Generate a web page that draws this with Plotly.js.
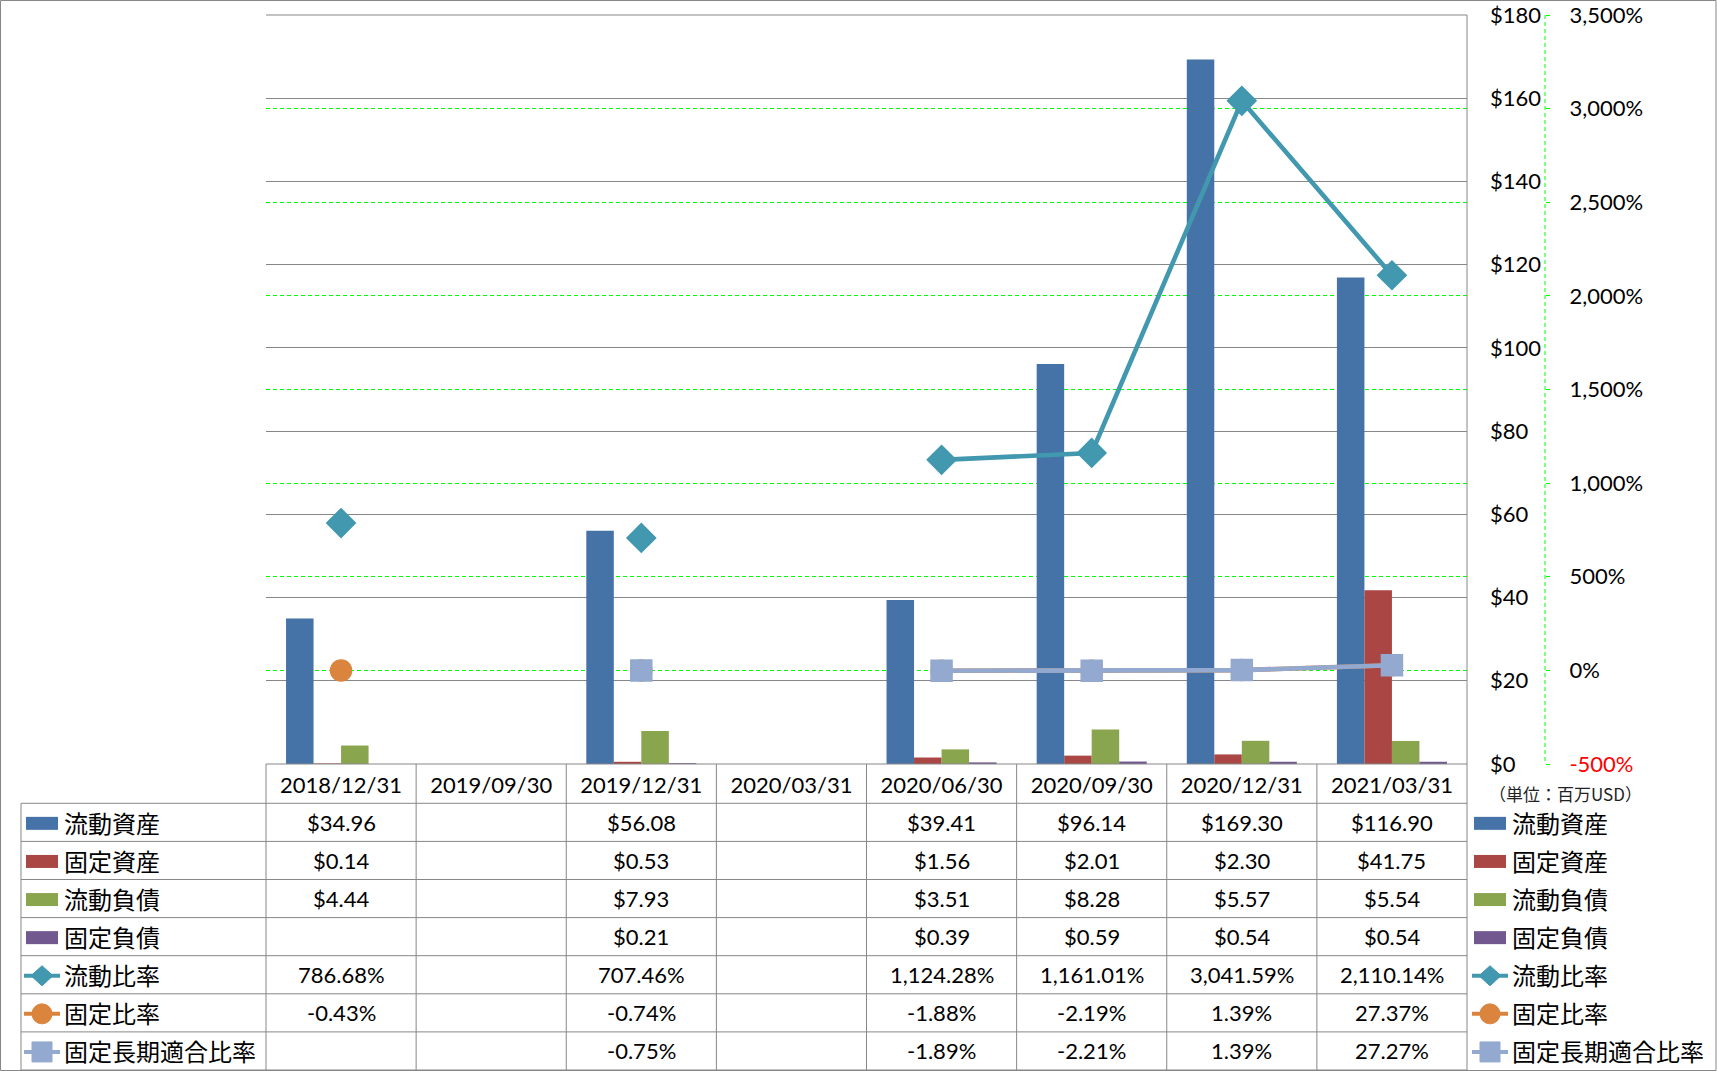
<!DOCTYPE html>
<html>
<head>
<meta charset="utf-8">
<script src="https://cdn.plot.ly/plotly-3.0.1.min.js"></script>
<style>
html,body{margin:0;padding:0;background:#fff;}
#chart{width:1717px;height:1071px;}
</style>
</head>
<body>
<div id="chart"></div>
<script>
// ---------- DATA ----------
const categories = ["2018/12/31","2019/09/30","2019/12/31","2020/03/31","2020/06/30","2020/09/30","2020/12/31","2021/03/31"];
const currentAssets      = [34.96, null, 56.08, null, 39.41, 96.14, 169.30, 116.90];
const fixedAssets        = [0.14,  null, 0.53,  null, 1.56,  2.01,  2.30,   41.75];
const currentLiabilities = [4.44,  null, 7.93,  null, 3.51,  8.28,  5.57,   5.54];
const fixedLiabilities   = [null,  null, 0.21,  null, 0.39,  0.59,  0.54,   0.54];
const currentRatio       = [786.68, null, 707.46, null, 1124.28, 1161.01, 3041.59, 2110.14];
const fixedRatio         = [-0.43,  null, -0.74,  null, -1.88,   -2.19,   1.39,    27.37];
const fixedLongTermRatio = [null,   null, -0.75,  null, -1.89,   -2.21,   1.39,    27.27];
const seriesNames = ["流動資産","固定資産","流動負債","固定負債","流動比率","固定比率","固定長期適合比率"];
const moneyTicks  = [0,20,40,60,80,100,120,140,160,180];
const moneyLabels = ["$0","$20","$40","$60","$80","$100","$120","$140","$160","$180"];
const pctTicks    = [-500,0,500,1000,1500,2000,2500,3000,3500];
const pctLabels   = ['<span style="color:#ff0000">-500%</span>',"0%","500%","1,000%","1,500%","2,000%","2,500%","3,000%","3,500%"];
const unitLabel = "（単位：百万USD）";

// ---------- STYLE / LAYOUT ----------
const colors = ["#4572A7","#AA4643","#89A54E","#71588F","#4198AF","#DB843D","#93A9CF"];
const W = 1717, H = 1071;
const ML = 266, MR = 172, MT = 15, MB = 307;
const PW = W - ML - MR, PH = H - MT - MB;
const px = x => (x - ML) / PW;
const py = y => (MT + PH - y) / PH;
const FONT = "Lato, 'Noto Sans CJK JP', sans-serif";
const GRAY = "#878787";
const plotRight = 1467, tableLeft = 21, headerBottom = 803.3, rowH = 38.1, tableBottom = 1070;
const colW = (plotRight - ML) / categories.length;

const barSeries = [currentAssets, fixedAssets, currentLiabilities, fixedLiabilities];
const lineSeries = [currentRatio, fixedRatio, fixedLongTermRatio];
const lineSymbols = ["diamond","circle","square"];
const lineSizes = [22, 21, 21];

const traces = [];
barSeries.forEach((vals, i) => {
  traces.push({type:"bar", name:seriesNames[i], x:categories, y:vals,
    marker:{color:colors[i]}, hoverinfo:"x+y"});
});
lineSeries.forEach((vals, j) => {
  const i = j + 4;
  traces.push({type:"scatter", mode:"lines+markers", name:seriesNames[i], x:categories, y:vals,
    yaxis:"y2", connectgaps:false,
    line:{color:colors[i], width:4.6},
    marker:{symbol:lineSymbols[j], size:lineSizes[j], color:colors[i], line:{color:colors[i], width:1.5}}});
});

// table + legend drawn as shapes/annotations
const shapes = [];
const annotations = [];
const hline = (x0,x1,y,color,w,dash) => shapes.push({type:"line", xref:"paper", yref:"paper",
  x0:px(x0), x1:px(x1), y0:py(y), y1:py(y), line:{color:color||GRAY, width:w||1, dash:dash||"solid"}});
const vline = (x,y0,y1,color,w,dash) => shapes.push({type:"line", xref:"paper", yref:"paper",
  x0:px(x), x1:px(x), y0:py(y0), y1:py(y1), line:{color:color||GRAY, width:w||1, dash:dash||"solid"}});

// outer frame
shapes.push({type:"rect", xref:"paper", yref:"paper", x0:px(0.5), x1:px(1716), y0:py(0.5), y1:py(1070.5),
  line:{color:GRAY, width:1}, fillcolor:"rgba(0,0,0,0)"});
// top gridline & plot right border
hline(ML, plotRight, MT);
vline(plotRight, MT, tableBottom);
// secondary axis dashed line
vline(1545, MT, 764, "#00ff00", 1, "4px,3px");
// table
hline(ML, plotRight, 764);
for (let k = 0; k <= seriesNames.length; k++) hline(tableLeft, plotRight, headerBottom + k*rowH);
for (let k = 0; k < categories.length; k++) vline(ML + k*colW, 764, tableBottom);
vline(tableLeft, headerBottom, tableBottom);

const fmtNum = v => v.toLocaleString("en-US", {minimumFractionDigits:2, maximumFractionDigits:2});
const allSeries = barSeries.concat(lineSeries);
allSeries.forEach((vals, r) => {
  const yc = headerBottom + rowH*(r + 0.5);
  vals.forEach((v, c) => {
    if (v === null) return;
    const txt = r < 4 ? "$" + fmtNum(v) : fmtNum(v) + "%";
    annotations.push({x:categories[c], xref:"x", y:py(yc), yref:"paper", text:txt, showarrow:false,
      xanchor:"center", yanchor:"middle", font:{size:22, color:"#000", family:FONT}});
  });
});

// legends (left row headers and right legend)
function legendItem(x0, r) {
  const yc = headerBottom + rowH*(r + 0.5) + 1;
  const cx = x0 + 16;
  const col = colors[r];
  if (r < 4) {
    shapes.push({type:"rect", xref:"paper", yref:"paper", x0:px(x0), x1:px(x0+32), y0:py(yc-6.5), y1:py(yc+6.5),
      line:{width:0}, fillcolor:col});
  } else {
    shapes.push({type:"line", xref:"paper", yref:"paper", x0:px(x0-2), x1:px(x0+34), y0:py(yc), y1:py(yc),
      line:{color:col, width:4}});
    const sym = lineSymbols[r-4];
    if (sym === "diamond") {
      const p = [[cx-11,yc],[cx,yc-10],[cx+11,yc],[cx,yc+10]].map(q => px(q[0]) + "," + py(q[1]));
      shapes.push({type:"path", xref:"paper", yref:"paper", path:"M" + p.join("L") + "Z", fillcolor:col, line:{color:col, width:1}});
    } else if (sym === "circle") {
      shapes.push({type:"circle", xref:"paper", yref:"paper", x0:px(cx-10), x1:px(cx+10), y0:py(yc-10), y1:py(yc+10), fillcolor:col, line:{color:col, width:1}});
    } else {
      shapes.push({type:"rect", xref:"paper", yref:"paper", x0:px(cx-10), x1:px(cx+10), y0:py(yc-10), y1:py(yc+10), fillcolor:col, line:{color:col, width:1}});
    }
  }
  annotations.push({x:px(x0+36), xref:"paper", y:py(yc-1), yref:"paper", text:seriesNames[r], showarrow:false,
    xanchor:"left", yanchor:"middle", font:{size:24, color:"#000", family:"'Noto Sans CJK JP', sans-serif"}});
}
for (let r = 0; r < seriesNames.length; r++) { legendItem(26, r); legendItem(1474, r); }

annotations.push({x:px(1487), xref:"paper", y:py(793), yref:"paper", text:unitLabel, showarrow:false,
  xanchor:"left", yanchor:"middle", font:{size:17, color:"#222", family:"'Noto Sans CJK JP', sans-serif"}});

const layout = {
  width:W, height:H,
  margin:{l:ML, r:MR, t:MT, b:MB, pad:0},
  paper_bgcolor:"#fff", plot_bgcolor:"#fff",
  font:{family:FONT, size:22, color:"#000"},
  showlegend:false,
  barmode:"group", bargap:0.267, bargroupgap:0,
  xaxis:{type:"category", domain:[0, px(plotRight)], showgrid:false, showline:false, zeroline:false,
    ticks:"", ticklabelstandoff:6, tickfont:{size:22, color:"#000"}, fixedrange:true},
  yaxis:{range:[0,180], tickvals:moneyTicks, ticktext:moneyLabels, side:"right", anchor:"x",
    showgrid:true, gridcolor:GRAY, gridwidth:1, zeroline:false, showline:false, ticks:"",
    ticklabelstandoff:22, tickfont:{size:22, color:"#000"}, fixedrange:true},
  yaxis2:{range:[-500,3500], tickvals:pctTicks, ticktext:pctLabels, overlaying:"y", side:"right",
    anchor:"free", position:1, showgrid:true, gridcolor:"#00ff00", gridwidth:1, griddash:"4px,3px",
    zeroline:false, showline:false, ticks:"outside", ticklen:4, tickcolor:"#00ff00",
    ticklabelstandoff:15, tickfont:{size:22, color:"#000"}, fixedrange:true},
  shapes:shapes,
  annotations:annotations
};

Plotly.newPlot("chart", traces, layout, {displayModeBar:false, staticPlot:true});
</script>
</body>
</html>
